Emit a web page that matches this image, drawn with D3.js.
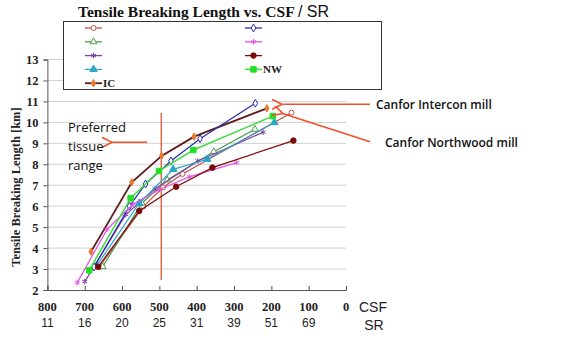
<!DOCTYPE html>
<html>
<head>
<meta charset="utf-8">
<script src="https://cdn.jsdelivr.net/npm/d3@7"></script>
<style>
  body { margin: 0; background: #fff; }
  svg { display: block; }
</style>
</head>
<body>
<div id="wrapper"></div>
<script>
// CSF ticks and matching SR values
const csfTicks = [800, 700, 600, 500, 400, 300, 200, 100, 0];
const srTicks = [11, 16, 20, 25, 31, 39, 51, 69, ""];
const yTicks = [2, 3, 4, 5, 6, 7, 8, 9, 10, 11, 12, 13];

// [CSF, breaking length km]
const redCircle = [[661, 3.1], [543, 5.98], [490, 6.9], [438, 7.54], [146, 10.46]];
const greenTri = [[652, 3.11], [547, 6.14], [479, 7.25], [354, 8.6], [244, 9.67]];
const purpleStar = [[700, 2.4], [590, 5.6], [512, 6.82], [397, 8.16], [222, 9.53]];
const cyanTri = [[668, 3.16], [554, 6.14], [463, 7.76], [372, 8.24], [192, 9.99]];
const icSeries = [[683, 3.83], [574, 7.14], [494, 8.4], [407, 9.32], [212, 10.67]];
const blueDiamond = [[675, 3.1], [580, 6.0], [537, 7.06], [469, 8.16], [391, 9.22], [243, 10.91]];
const magentaStar = [[720, 2.35], [640, 4.9], [570, 6.1], [500, 6.8], [420, 7.4], [293, 8.08]];
const darkRedDot = [[664, 3.11], [554, 5.77], [455, 6.93], [358, 7.84], [141, 9.13]];
const nwSeries = [[688, 2.94], [577, 6.38], [501, 7.68], [409, 8.68], [196, 10.3]];

const series = [
  {data: redCircle, line: "#C0504D", mark: "#C0504D", sym: d3.symbolCircle, size: 20, fill: "#fff", col: 0, row: 0, label: ""},
  {data: greenTri, line: "#4E9A45", mark: "#4E9A45", sym: d3.symbolTriangle, size: 20, fill: "#fff", col: 0, row: 1, label: ""},
  {data: purpleStar, line: "#8040A0", mark: "#8040A0", sym: d3.symbolAsterisk, size: 22, fill: "none", col: 0, row: 2, label: ""},
  {data: cyanTri, line: "#2AA6C8", mark: "#2AA6C8", sym: d3.symbolTriangle, size: 24, fill: "#2AA6C8", col: 0, row: 3, label: ""},
  {data: icSeries, line: "#5C1A1A", mark: "#E57B2E", sym: d3.symbolDiamond, size: 16, fill: "#E57B2E", col: 0, row: 4, label: "IC", width: 1.8},
  {data: blueDiamond, line: "#2A2AB0", mark: "#2A2AB0", sym: d3.symbolDiamond, size: 18, fill: "#fff", col: 1, row: 0, label: ""},
  {data: magentaStar, line: "#E055E0", mark: "#E055E0", sym: d3.symbolAsterisk, size: 22, fill: "none", col: 1, row: 1, label: ""},
  {data: darkRedDot, line: "#7A0A0A", mark: "#7A0A0A", sym: d3.symbolCircle, size: 24, fill: "#7A0A0A", col: 1, row: 2, label: ""},
  {data: nwSeries, line: "#3EDD3E", mark: "#22E022", sym: d3.symbolSquare, size: 30, fill: "#22E022", col: 1, row: 3, label: "NW", width: 1.5},
];

const svg = d3.select("#wrapper").append("svg")
  .attr("width", 561).attr("height", 340);

const x = d3.scaleLinear().domain([800, 0]).range([47.4, 346]);
const y = d3.scaleLinear().domain([2, 13]).range([290, 59.5]);

// gridlines
svg.append("g").selectAll("line")
  .data(yTicks.slice(1))
  .enter().append("line")
  .attr("x1", x(800)).attr("x2", x(0))
  .attr("y1", d => y(d)).attr("y2", d => y(d))
  .attr("stroke", "#d0d0d0").attr("stroke-width", 1);

// axes
const yAxis = svg.append("g")
  .attr("transform", `translate(${x(800)},0)`)
  .call(d3.axisLeft(y).tickValues(yTicks).tickSize(4).tickFormat(d3.format("d")));
yAxis.select(".domain").attr("stroke", "#555");
yAxis.selectAll(".tick line").attr("stroke", "#555");
yAxis.selectAll("text")
  .attr("font-family", "Liberation Serif").attr("font-weight", "bold")
  .attr("font-size", 12.5).attr("fill", "#222").attr("x", -9);

const xAxis = svg.append("g")
  .attr("transform", `translate(0,${y(2)})`)
  .call(d3.axisTop(x).tickValues(csfTicks).tickSize(4).tickFormat(""));
xAxis.select(".domain").attr("stroke", "#555");
xAxis.selectAll(".tick line").attr("stroke", "#555");

svg.append("g").selectAll("text")
  .data(csfTicks)
  .enter().append("text")
  .attr("x", d => x(d)).attr("y", 311)
  .attr("text-anchor", "middle")
  .attr("font-family", "Liberation Serif").attr("font-weight", "bold")
  .attr("font-size", 12.5).attr("fill", "#222")
  .text(d => d);

svg.append("g").selectAll("text")
  .data(srTicks)
  .enter().append("text")
  .attr("x", (d, i) => x(csfTicks[i])).attr("y", 327)
  .attr("text-anchor", "middle")
  .attr("font-family", "Liberation Sans")
  .attr("font-size", 12).attr("fill", "#222")
  .text(d => d);

svg.append("text").attr("x", 373).attr("y", 312).attr("text-anchor", "middle")
  .attr("font-family", "Liberation Sans").attr("font-size", 14).attr("fill", "#222").text("CSF");
svg.append("text").attr("x", 374).attr("y", 330).attr("text-anchor", "middle")
  .attr("font-family", "Liberation Sans").attr("font-size", 14).attr("fill", "#222").text("SR");

svg.append("text")
  .attr("transform", "translate(20,187) rotate(-90)")
  .attr("text-anchor", "middle")
  .attr("font-family", "Liberation Serif").attr("font-weight", "bold")
  .attr("font-size", 12.5).attr("fill", "#222")
  .text("Tensile Breaking Length  [km]");

// title
const title = svg.append("text").attr("x", 78).attr("y", 17).attr("fill", "#111");
title.append("tspan").attr("font-family", "Liberation Serif").attr("font-weight", "bold")
  .attr("font-size", 15.5).text("Tensile Breaking Length vs. CSF ");
title.append("tspan").attr("font-family", "Liberation Sans")
  .attr("font-size", 16).text(" / SR");

// preferred range line
svg.append("line")
  .attr("x1", x(495)).attr("x2", x(495))
  .attr("y1", y(10.45)).attr("y2", y(2.48))
  .attr("stroke", "#E0552F").attr("stroke-width", 1.3);

// series
const line = d3.line().x(d => x(d[0])).y(d => y(d[1]));
series.forEach(s => {
  svg.append("path").datum(s.data)
    .attr("d", line).attr("fill", "none")
    .attr("stroke", s.line).attr("stroke-width", s.width || 1.2);
  svg.append("g").selectAll("path")
    .data(s.data)
    .enter().append("path")
    .attr("transform", d => `translate(${x(d[0])},${y(d[1])})`)
    .attr("d", d3.symbol().type(s.sym).size(s.size))
    .attr("fill", s.fill).attr("stroke", s.mark).attr("stroke-width", 1);
});

// legend
const legend = svg.append("g");
legend.append("rect")
  .attr("x", 63.5).attr("y", 21.5).attr("width", 318).attr("height", 68)
  .attr("fill", "#fff").attr("stroke", "#333").attr("stroke-width", 1);
const colX = [85, 245];
series.forEach(s => {
  const lx = colX[s.col], ly = 28 + s.row * 13.8;
  legend.append("line").attr("x1", lx).attr("x2", lx + 17)
    .attr("y1", ly).attr("y2", ly)
    .attr("stroke", s.line).attr("stroke-width", s.width || 1.3);
  legend.append("path")
    .attr("transform", `translate(${lx + 8.5},${ly})`)
    .attr("d", d3.symbol().type(s.sym).size(s.size))
    .attr("fill", s.fill).attr("stroke", s.mark).attr("stroke-width", 1);
  if (s.label) {
    legend.append("text").attr("x", lx + 18).attr("y", ly + 4)
      .attr("font-family", "Liberation Serif").attr("font-weight", "bold")
      .attr("font-size", 11).attr("fill", "#222").text(s.label);
  }
});

// annotations
svg.append("defs").append("marker")
  .attr("id", "arr").attr("viewBox", "0 0 10 10")
  .attr("refX", 1).attr("refY", 5)
  .attr("markerWidth", 7).attr("markerHeight", 7)
  .attr("orient", "auto-start-reverse")
  .append("path").attr("d", "M10,0 L0,5 L10,10").attr("fill", "none")
  .attr("stroke", "#F0502A").attr("stroke-width", 1.5);

const arrows = [[370, 104.3, 281, 104.3], [370, 141.7, 282, 113.3], [147, 142.3, 111, 142.3]];
svg.append("g").selectAll("line")
  .data(arrows)
  .enter().append("line")
  .attr("x1", d => d[2]).attr("y1", d => d[3])
  .attr("x2", d => d[0]).attr("y2", d => d[1])
  .attr("stroke", "#F0502A").attr("stroke-width", 1.5)
  .attr("marker-start", "url(#arr)");

svg.append("text").attr("x", 376).attr("y", 109)
  .attr("font-family", "Open Sans").attr("font-weight", "600")
  .attr("font-size", 12).attr("fill", "#111").text("Canfor Intercon mill");
svg.append("text").attr("x", 385).attr("y", 147)
  .attr("font-family", "Open Sans").attr("font-weight", "600")
  .attr("font-size", 12).attr("fill", "#111").text("Canfor Northwood mill");

const pref = ["Preferred", "tissue", "range"];
svg.append("g").selectAll("text")
  .data(pref)
  .enter().append("text")
  .attr("x", 68).attr("y", (d, i) => 132 + i * 19)
  .attr("font-family", "Open Sans").attr("font-size", 13).attr("fill", "#111")
  .text(d => d);
</script>
</body>
</html>
